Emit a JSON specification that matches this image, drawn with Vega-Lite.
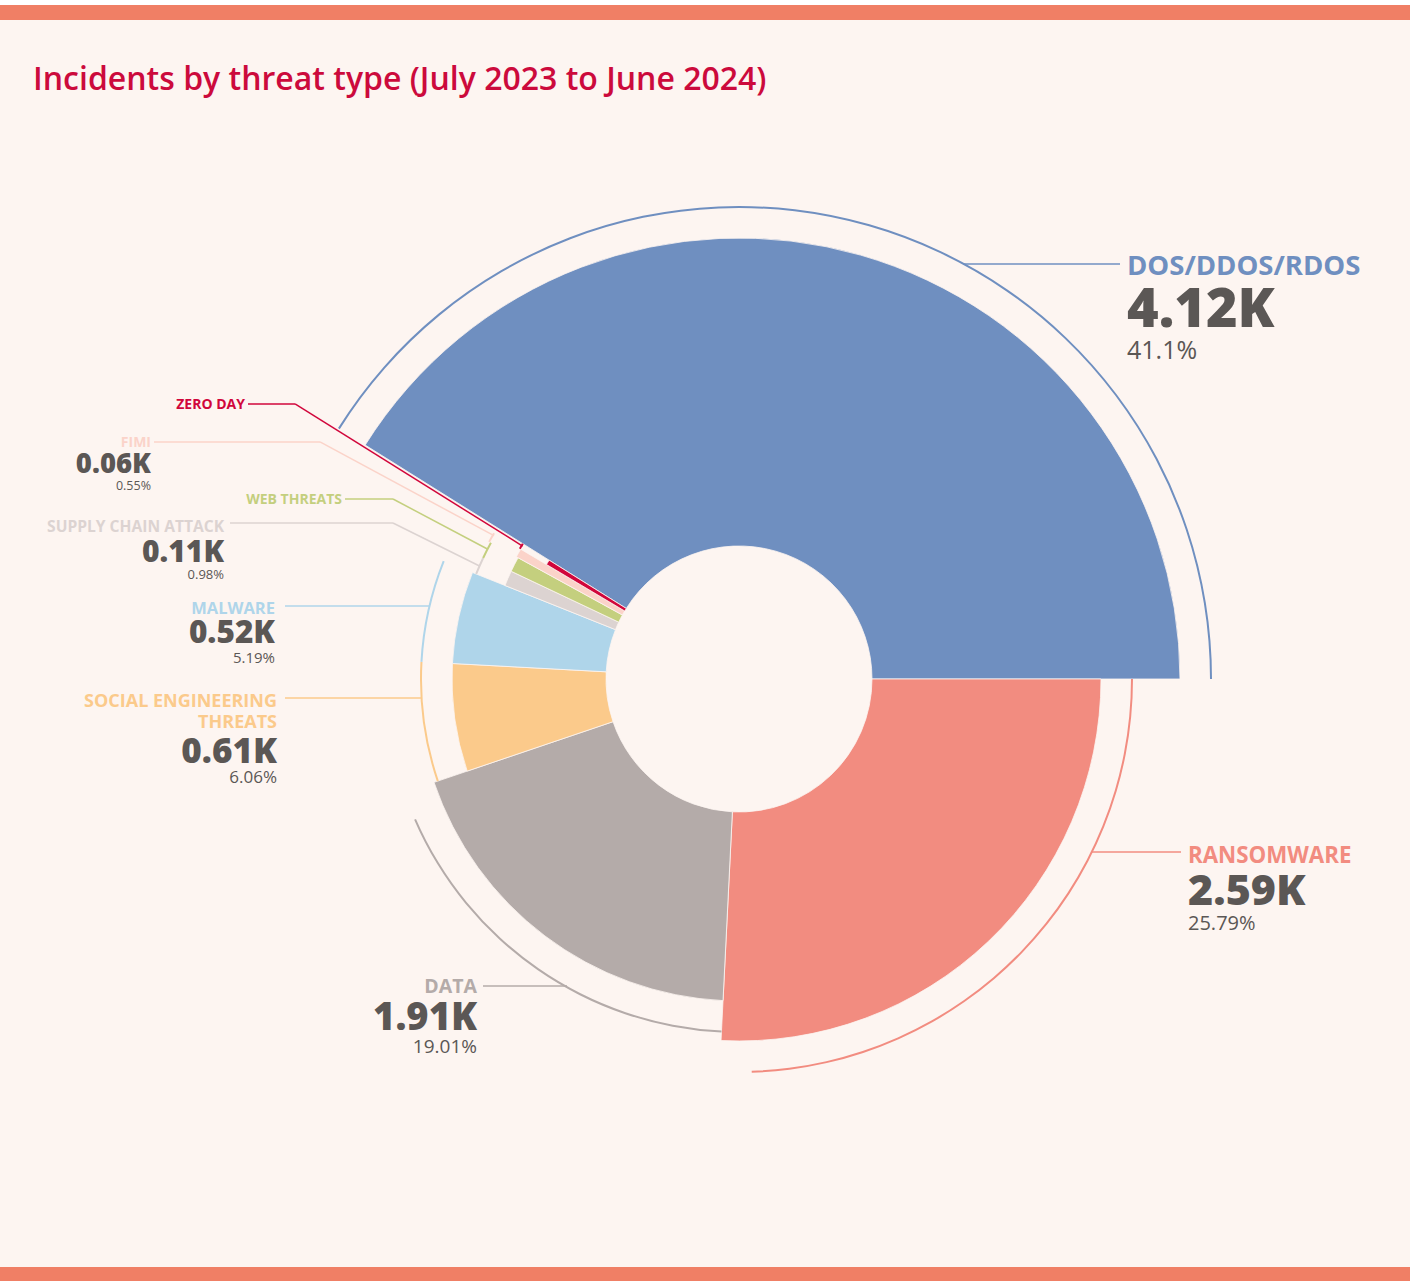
{
  "$schema": "https://vega.github.io/schema/vega-lite/v6.json",
  "width": 1430,
  "height": 1262,
  "autosize": {"type": "none"},
  "padding": {"left": -10, "right": -10, "top": 12.5, "bottom": 6.5},
  "background": "#ffffff",
  "title": {
    "text": "Incidents by threat type (July 2023 to June 2024)",
    "anchor": "start",
    "frame": "group",
    "orient": "top",
    "baseline": "alphabetic",
    "offset": -109,
    "dx": 43,
    "font": "Open Sans",
    "fontSize": 32,
    "fontWeight": 600,
    "color": "#cc0a3c"
  },
  "config": {
    "view": {"fill": "#fdf5f1", "stroke": "#f07f65", "strokeWidth": 15},
    "font": "Open Sans",
    "legend": {"disable": true}
  },
  "data": {
    "values": [
      {"category": "DOS/DDOS/RDOS", "share": 0.411, "value": 4120},
      {"category": "Ransomware", "share": 0.2579, "value": 2590},
      {"category": "Data", "share": 0.1901, "value": 1910},
      {"category": "Social engineering threats", "share": 0.0606, "value": 610},
      {"category": "Malware", "share": 0.0519, "value": 520},
      {"category": "Supply chain attack", "share": 0.0098, "value": 110},
      {"category": "Web threats", "share": 0.0096, "value": null},
      {"category": "FIMI", "share": 0.0055, "value": 60},
      {"category": "Zero day", "share": 0.0036, "value": null}
    ]
  },
  "transform": [
    {"calculate": "upper(replace(datum.category, 'engineering ', 'engineering\\n'))", "as": "name"},
    {"calculate": "datum.value == null ? '' : format(datum.value / 1000, '.2f') + 'K'", "as": "valueLabel"}
  ],
  "encoding": {
    "color": {
      "field": "category",
      "type": "nominal",
      "legend": null,
      "scale": {
        "domain": ["DOS/DDOS/RDOS", "Ransomware", "Data", "Social engineering threats", "Malware", "Supply chain attack", "Web threats", "FIMI", "Zero day"],
        "range": ["#6f8fc0", "#f28c80", "#b4aba9", "#fbca8b", "#afd5ea", "#dcd3d1", "#c4cf7e", "#fbd3c9", "#d1063b"]
      }
    }
  },
  "layer": [
    {
      "mark": {"type": "arc", "innerRadius": 133, "x": 749, "y": 666.5, "stroke": "#fdf5f1", "strokeWidth": 0.8},
      "encoding": {
        "theta": {"field": "share", "type": "quantitative", "stack": true, "scale": {"range": [-1.0116, 5.27159]}},
        "order": {"field": "share", "sort": "descending"},
        "radius": {
          "field": "share", "type": "quantitative",
          "scale": {"type": "linear", "zero": false, "nice": false,
            "domain": [0.0036, 0.0055, 0.0096, 0.0098, 0.0519, 0.0606, 0.1901, 0.2579, 0.411],
            "range": [224, 254, 252, 252, 287, 287, 322, 362, 441]}
        }
      }
    },
    {
      "transform": [
        {"stack": "share", "groupby": [], "sort": [{"field": "share", "order": "descending"}], "as": ["t0", "t1"]},
        {"filter": "datum.share > 0.3 || datum.share < 0.15"}
      ],
      "mark": {"type": "arc", "x": 749, "y": 666.5, "radiusOffset": 32, "radius2Offset": 30},
      "encoding": {
        "theta": {"field": "t0", "type": "quantitative", "stack": null},
        "theta2": {"field": "t1"},
        "radius": {"field": "share", "type": "quantitative"},
        "radius2": {"field": "share"}
      }
    },
    {
      "transform": [
        {"stack": "share", "groupby": [], "sort": [{"field": "share", "order": "descending"}], "as": ["t0", "t1"]},
        {"filter": "datum.share >= 0.15 && datum.share <= 0.3"}
      ],
      "mark": {"type": "arc", "x": 749, "y": 666.5, "radiusOffset": 32, "radius2Offset": 30, "theta2Offset": -0.082},
      "encoding": {
        "theta": {"field": "t0", "type": "quantitative", "stack": null},
        "theta2": {"field": "t1"},
        "radius": {"field": "share", "type": "quantitative"},
        "radius2": {"field": "share"}
      }
    },
    {
      "transform": [{"filter": "datum.share < 0.02"}],
      "mark": {"type": "point", "shape": "stroke", "filled": false, "strokeWidth": 1.5, "opacity": 1},
      "encoding": {
        "x": {"field": "share", "type": "quantitative", "axis": null,
          "scale": {"type": "linear", "zero": false, "nice": false, "domain": [0.0036, 0.0055, 0.0096, 0.0098], "range": [418.8, 417, 450.2, 446.25]}},
        "y": {"field": "share", "type": "quantitative", "axis": null,
          "scale": {"type": "linear", "zero": false, "nice": false, "domain": [0.0036, 0.0055, 0.0096, 0.0098], "range": [462.5, 476.3, 511.5, 532]}},
        "size": {"field": "share", "type": "quantitative", "legend": null,
          "scale": {"type": "linear", "zero": false, "nice": false, "domain": [0.0036, 0.0055, 0.0096, 0.0098], "range": [71985, 39046, 11406, 9332]}},
        "angle": {"field": "share", "type": "quantitative", "legend": null,
          "scale": {"type": "linear", "zero": false, "nice": false, "domain": [0.0036, 0.0055, 0.0096, 0.0098], "range": [32, 28.3, 27.9, 26.4]}}
      }
    },
    {
      "mark": {"type": "tick", "orient": "horizontal", "thickness": 1.5, "opacity": 1},
      "encoding": {
        "x": {"field": "share", "type": "quantitative", "axis": null,
          "scale": {"type": "linear", "zero": false, "nice": false,
            "domain": [0.0036, 0.0055, 0.0096, 0.0098, 0.0519, 0.0606, 0.1901, 0.2579, 0.411],
            "range": [281.5, 247, 379, 321.5, 367.25, 363.3, 535, 1146.5, 1051.5]}},
        "y": {"field": "share", "type": "quantitative", "axis": null,
          "scale": {"type": "linear", "zero": false, "nice": false,
            "domain": [0.0036, 0.0055, 0.0096, 0.0098, 0.0519, 0.0606, 0.1901, 0.2579, 0.411],
            "range": [391.5, 429.5, 486.5, 510.5, 593.5, 685.5, 973.5, 839.5, 251.5]}},
        "size": {"field": "share", "type": "quantitative", "legend": null,
          "scale": {"type": "linear", "zero": false, "nice": false,
            "domain": [0.0036, 0.0055, 0.0096, 0.0098, 0.0519, 0.0606, 0.1901, 0.2579, 0.411],
            "range": [47, 166, 48, 163, 144.5, 136.6, 84, 89, 157]}}
      }
    },
    {
      "mark": {"type": "text", "font": "Open Sans", "fontWeight": 700, "baseline": "alphabetic", "lineBreak": "\n", "lineHeight": 21,
        "align": {"expr": "datum.share > 0.2 ? 'left' : 'right'"}},
      "encoding": {
        "text": {"field": "name"},
        "x": {"field": "share", "type": "quantitative", "axis": null,
          "scale": {"type": "linear", "zero": false, "nice": false,
            "domain": [0.0036, 0.0055, 0.0096, 0.0098, 0.0519, 0.0606, 0.1901, 0.2579, 0.411],
            "range": [255, 161, 352, 234, 285, 287, 487, 1198, 1137]}},
        "y": {"field": "share", "type": "quantitative", "axis": null,
          "scale": {"type": "linear", "zero": false, "nice": false,
            "domain": [0.0036, 0.0055, 0.0096, 0.0098, 0.0519, 0.0606, 0.1901, 0.2579, 0.411],
            "range": [396.5, 434.5, 491.5, 519.5, 601.5, 694.5, 980.5, 850.5, 262.5]}},
        "size": {"field": "share", "type": "quantitative", "legend": null,
          "scale": {"type": "linear", "zero": false, "nice": false,
            "domain": [0.0036, 0.0055, 0.0096, 0.0098, 0.0519, 0.0606, 0.1901, 0.2579, 0.411],
            "range": [14, 14, 14, 15.6, 16.5, 18, 19.5, 22.3, 27.5]}}
      }
    },
    {
      "transform": [{"filter": "datum.value != null"}],
      "mark": {"type": "text", "font": "Open Sans", "fontWeight": 800, "baseline": "alphabetic",
        "align": {"expr": "datum.share > 0.2 ? 'left' : 'right'"}},
      "encoding": {
        "text": {"field": "valueLabel"},
        "color": {"value": "#5b5755"},
        "x": {"field": "share", "type": "quantitative", "axis": null,
          "scale": {"type": "linear", "zero": false, "nice": false,
            "domain": [0.0036, 0.0055, 0.0096, 0.0098, 0.0519, 0.0606, 0.1901, 0.2579, 0.411],
            "range": [255, 161, 352, 234, 285, 287, 487, 1198, 1137]}},
        "y": {"field": "share", "type": "quantitative", "axis": null,
          "scale": {"type": "linear", "zero": false, "nice": false,
            "domain": [0.0036, 0.0055, 0.0096, 0.0098, 0.0519, 0.0606, 0.1901, 0.2579, 0.411],
            "range": [400, 460.5, 500, 549.5, 630.5, 750.5, 1017.5, 892.5, 314.5]}},
        "size": {"field": "share", "type": "quantitative", "legend": null,
          "scale": {"type": "linear", "zero": false, "nice": false,
            "domain": [0.0036, 0.0055, 0.0096, 0.0098, 0.0519, 0.0606, 0.1901, 0.2579, 0.411],
            "range": [20, 27.5, 27, 30, 31.5, 35, 38, 43, 54]}}
      }
    },
    {
      "transform": [{"filter": "datum.value != null"}],
      "mark": {"type": "text", "font": "Open Sans", "fontWeight": 400, "baseline": "alphabetic",
        "align": {"expr": "datum.share > 0.2 ? 'left' : 'right'"}},
      "encoding": {
        "text": {"field": "share", "type": "quantitative", "format": ".2~%"},
        "color": {"value": "#5b5755"},
        "x": {"field": "share", "type": "quantitative", "axis": null,
          "scale": {"type": "linear", "zero": false, "nice": false,
            "domain": [0.0036, 0.0055, 0.0096, 0.0098, 0.0519, 0.0606, 0.1901, 0.2579, 0.411],
            "range": [255, 161, 352, 234, 285, 287, 487, 1198, 1137]}},
        "y": {"field": "share", "type": "quantitative", "axis": null,
          "scale": {"type": "linear", "zero": false, "nice": false,
            "domain": [0.0036, 0.0055, 0.0096, 0.0098, 0.0519, 0.0606, 0.1901, 0.2579, 0.411],
            "range": [400, 477.5, 500, 566.5, 650.5, 770.5, 1040.5, 917.5, 346.5]}},
        "size": {"field": "share", "type": "quantitative", "legend": null,
          "scale": {"type": "linear", "zero": false, "nice": false,
            "domain": [0.0036, 0.0055, 0.0096, 0.0098, 0.0519, 0.0606, 0.1901, 0.2579, 0.411],
            "range": [12, 12.5, 12.5, 13, 15, 17, 19, 20, 25]}}
      }
    }
  ],
  "resolve": {"scale": {"x": "independent", "y": "independent", "size": "independent", "angle": "independent"}}
}
